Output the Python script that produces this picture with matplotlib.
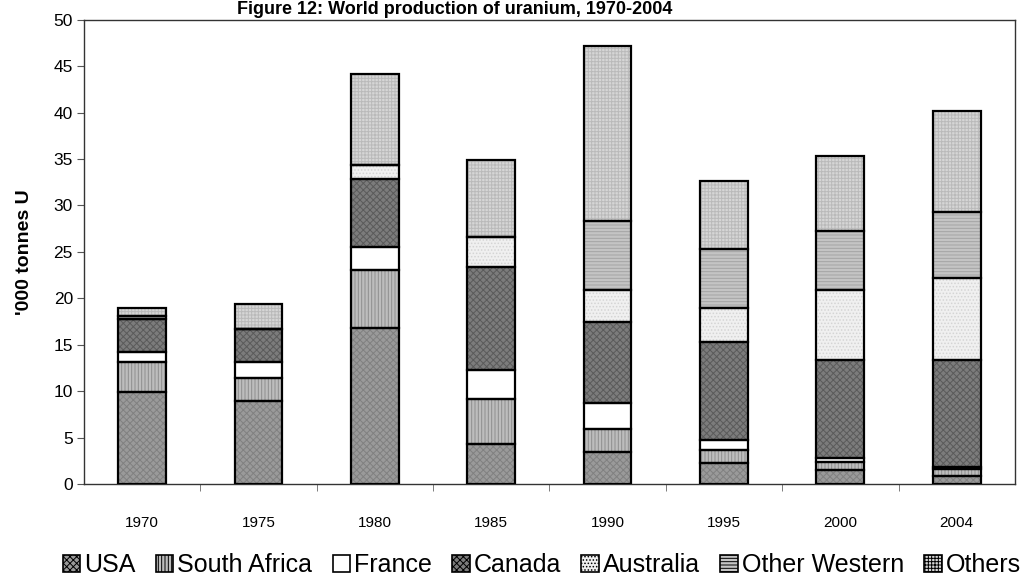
import numpy as np
import matplotlib
matplotlib.use("Agg")
import matplotlib.pyplot as plt
from matplotlib.patches import Patch

plt.rcParams['font.family'] = ['Liberation Sans', 'DejaVu Sans']
plt.rcParams['hatch.linewidth'] = 0.7

# datos ('000 toneladas U)
years = ['1970', '1975', '1980', '1985', '1990', '1995', '2000', '2004']
usa = [9.9, 8.9, 16.8, 4.3, 3.4, 2.3, 1.5, 0.9]
south_africa = [3.2, 2.5, 6.2, 4.9, 2.5, 1.4, 0.9, 0.7]
france = [1.1, 1.7, 2.5, 3.1, 2.8, 1.0, 0.4, 0.2]
canada = [3.6, 3.6, 7.4, 11.1, 8.7, 10.6, 10.6, 11.5]
australia = [0.0, 0.0, 1.5, 3.2, 3.5, 3.7, 7.5, 8.9]
other_western = [0.3, 0.0, 0.0, 0.0, 7.4, 6.3, 6.3, 7.1]
others = [0.8, 2.7, 9.8, 8.3, 18.9, 7.3, 8.1, 10.9]

series = [('USA', usa), ('South Africa', south_africa), ('France', france),
          ('Canada', canada), ('Australia', australia),
          ('Other Western', other_western), ('Others', others)]
# estilo de cada serie: relleno, trama, color de trama
styles = [('#9a9a9a', 'xxxxx', '#808080'),
          ('#bdbdbd', '|||||', '#8e8e8e'),
          ('#ffffff', None, '#ffffff'),
          ('#7c7c7c', 'xxxxx', '#5a5a5a'),
          ('#f0f0f0', '.....', '#d4d4d4'),
          ('#c4c4c4', '-----', '#a4a4a4'),
          ('#d6d6d6', '+++++', '#bababa')]

fig = plt.figure(figsize=(10.32, 5.81), dpi=100)
ax = fig.add_axes([0.0814, 0.167, 0.902, 0.799])

x = np.arange(len(years))
width = 0.41
bottom = np.zeros(len(years))
for (name, vals), (fc, hatch, hc) in zip(series, styles):
    vals = np.array(vals)
    ax.bar(x, vals, width, bottom=bottom, color=fc, hatch=hatch,
           edgecolor=hc, linewidth=0, zorder=2)
    ax.bar(x, vals, width, bottom=bottom, fill=False, edgecolor='black',
           linewidth=1.6, zorder=3)
    bottom += vals

ax.set_xlim(-0.5, len(years) - 0.5)
ax.set_ylim(0, 50)
ax.set_yticks(np.arange(0, 51, 5))
ax.set_xticks(x)
ax.set_xticklabels(years, fontsize=11)
ax.set_xticks(np.arange(0.5, len(years) - 1, 1), minor=True)
ax.tick_params(axis='x', which='major', length=0, pad=23)
ax.tick_params(axis='x', which='minor', length=5, color='#666666', direction='out')
ax.tick_params(axis='y', labelsize=12.5, length=5, color='#555555', direction='out', pad=3)
for s in ax.spines.values():
    s.set_color('#333333')
    s.set_linewidth(1.0)

ax.set_ylabel("'000 tonnes U", fontsize=14, fontweight='bold', labelpad=15)
fig.text(0.441, 0.999, 'Figure 12: World production of uranium, 1970-2004',
         ha='center', va='top', fontsize=13, fontweight='bold')

handles = []
for (name, vals), (fc, hatch, hc) in zip(series, styles):
    handles.append(Patch(facecolor=fc, hatch=hatch, edgecolor='black',
                         linewidth=1.2, label=name))
fig.legend(handles=handles, loc='center', bbox_to_anchor=(0.525, 0.027), ncol=7,
           frameon=False, fontsize=18, handlelength=0.7, handleheight=0.7,
           handletextpad=0.15, columnspacing=0.82, borderaxespad=0)

fig.savefig('out.png', dpi=100)
